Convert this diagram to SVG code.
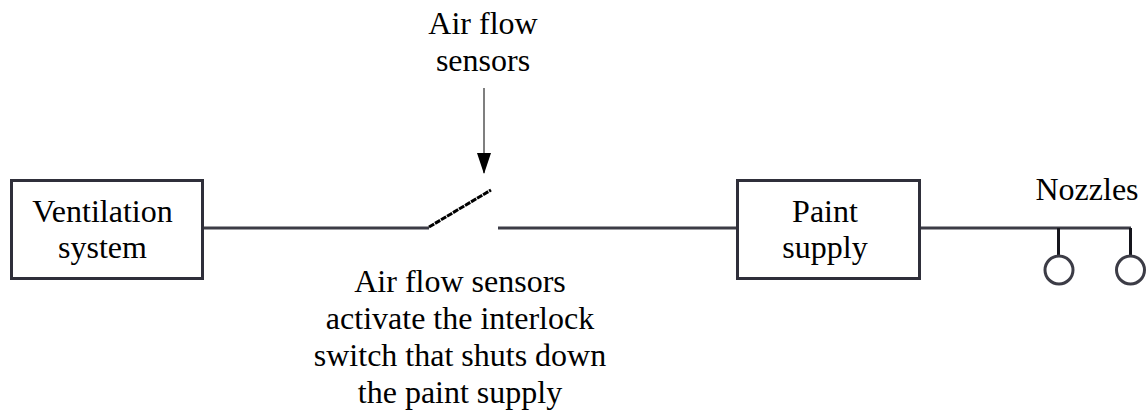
<svg xmlns="http://www.w3.org/2000/svg" width="1146" height="412" viewBox="0 0 1146 412">
<style>
text{font-family:"Liberation Serif","Times New Roman",serif;font-size:32px;fill:#000;text-anchor:middle}
.b{fill:#fff;stroke:#2f2f3a;stroke-width:3}
.l{fill:none;stroke:#3c3c46;stroke-width:3}
.n{fill:#fff;stroke:#3c3c46;stroke-width:3}
</style>
<defs><marker id="a" markerUnits="userSpaceOnUse" markerWidth="21" markerHeight="14" refX="20" refY="7" orient="auto" viewBox="0 0 21 14"><path d="M0 0L21 7L0 14Z" fill="#000"/></marker></defs>
<rect width="1146" height="412" fill="#fff"/>
<g id="connectors">
<path class="l" d="M203 228H429"/>
<path d="M429 227L491 190" fill="none" stroke="#000" stroke-width="3" stroke-dasharray="6 1"/>
<path class="l" d="M498 228H737"/>
<path class="l" d="M919 228H1131"/>
<path d="M1058.500 228V256M1130.500 228V256" fill="none" stroke="#15151c" stroke-width="3"/>
<path d="M484 88V173" fill="none" stroke="#555" stroke-width="1.5" marker-end="url(#a)"/>
</g>
<g id="ventilation"><rect class="b" x="11.500" y="180.500" width="191" height="98"/><text x="102.500" y="222">Ventilation</text><text x="102.500" y="258">system</text></g>
<g id="paint"><rect class="b" x="737.500" y="180.500" width="182" height="98"/><text x="825" y="222">Paint</text><text x="825" y="258">supply</text></g>
<g id="nozzle1"><circle class="n" cx="1059" cy="270" r="14"/></g>
<g id="nozzle2"><circle class="n" cx="1130.500" cy="270" r="14"/></g>
<g id="labels">
<text x="483" y="34">Air flow</text><text x="483" y="71">sensors</text>
<text x="1087" y="200">Nozzles</text>
<text x="460" y="292">Air flow sensors</text><text x="460" y="329">activate the interlock</text><text x="460" y="366">switch that shuts down</text><text x="460" y="403">the paint supply</text>
</g>
</svg>
